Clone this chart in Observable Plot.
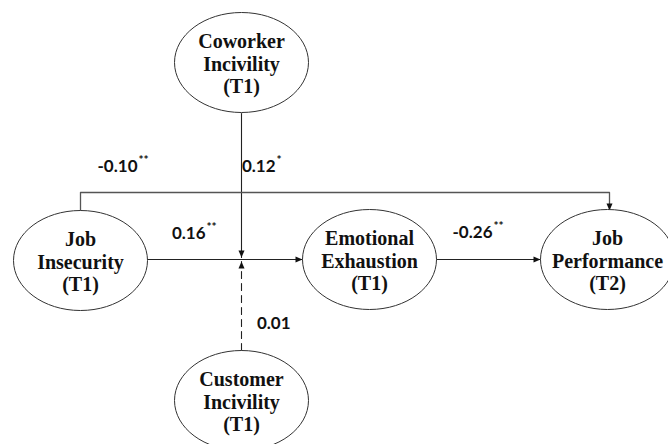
<!DOCTYPE html>
<html>
<head>
<meta charset="utf-8">
<script src="https://cdn.jsdelivr.net/npm/d3@7"></script>
<script src="https://cdn.jsdelivr.net/npm/@observablehq/plot@0.6"></script>
<style>
  html, body { margin: 0; padding: 0; background: #ffffff; }
  #chart { width: 668px; height: 444px; overflow: hidden; }
</style>
</head>
<body>
<div id="chart"></div>
<script>
// ---- Data: constructs (nodes) ----
const nodeLabels = [
  "Coworker\nIncivility\n(T1)",
  "Job\nInsecurity\n(T1)",
  "Emotional\nExhaustion\n(T1)",
  "Job\nPerformance\n(T2)",
  "Customer\nIncivility\n(T1)"
];
// diagram layout (centres, in diagram units)
const nodeX = [241, 80, 369, 607, 241];
const nodeY = [62, 260, 259, 259, 400];

// ---- Data: path coefficients ----
const coefText  = ["-0.10", "0.12", "0.16", "-0.26", "0.01"];
const coefStars = ["**", "*", "**", "**", ""];
// label anchor (end of number), diagram units
const coefX = [137, 275, 205, 492, 290];
const coefY = [166, 166, 233, 232, 323];

// ---- Data: paths (diagram units) ----
const pathIds = ["JI-EE", "EE-JP", "CO-mod", "CU-mod", "JI-JP"];
const pathDashed = [false, false, false, true, false];
const pathPoints = [
  [[147, 259], [302, 259]],
  [[436, 259], [540, 259]],
  [[241, 113], [241, 257]],
  [[241, 350], [241, 261]],
  [[80, 210], [80, 192], [609, 192], [609, 210]]
];

// ---- Build tables ----
const nodes = nodeLabels.map((label, i) => ({label, x: nodeX[i], y: nodeY[i]}));
const coefs = coefText.map((t, i) => ({t, s: coefStars[i], x: coefX[i], y: coefY[i]}));
const segs = [];
const heads = [];
pathPoints.forEach((pts, i) => {
  pts.forEach(([x, y]) => segs.push({id: pathIds[i], dashed: pathDashed[i], x, y}));
  const [x0, y0] = pts[pts.length - 2];
  const [x1, y1] = pts[pts.length - 1];
  heads.push({x: x1, y: y1, rot: Math.atan2(x1 - x0, -(y1 - y0)) * 180 / Math.PI});
});

// custom symbols
const RX = 67, RY = 50, K = 0.5523;
const ellipseSymbol = {
  draw(ctx) {
    ctx.moveTo(RX, 0);
    ctx.bezierCurveTo(RX, K * RY, K * RX, RY, 0, RY);
    ctx.bezierCurveTo(-K * RX, RY, -RX, K * RY, -RX, 0);
    ctx.bezierCurveTo(-RX, -K * RY, -K * RX, -RY, 0, -RY);
    ctx.bezierCurveTo(K * RX, -RY, RX, -K * RY, RX, 0);
    ctx.closePath();
  }
};
const headSymbol = {
  draw(ctx) {
    ctx.moveTo(0, 0);
    ctx.lineTo(-3, 7);
    ctx.lineTo(3, 7);
    ctx.closePath();
  }
};

const chart = Plot.plot({
  width: 668,
  height: 444,
  margin: 0,
  x: {domain: [0, 668], range: [0, 668], axis: null},
  y: {domain: [0, 444], range: [0, 444], axis: null},
  style: {background: "#ffffff", overflow: "hidden"},
  marks: [
    Plot.line(segs.filter(d => !d.dashed && d.id !== "JI-JP"), {x: "x", y: "y", z: "id", stroke: "#222", strokeWidth: 1.1, curve: "linear"}),
    Plot.line(segs.filter(d => d.id === "JI-JP"), {x: "x", y: "y", z: "id", stroke: "#555", strokeWidth: 1.3, curve: "linear"}),
    Plot.line(segs.filter(d => d.dashed), {x: "x", y: "y", z: "id", stroke: "#222", strokeWidth: 1.1, strokeDasharray: "7,5"}),
    Plot.dot(heads, {x: "x", y: "y", rotate: "rot", symbol: headSymbol, r: 3, fill: "#111", stroke: "none"}),
    Plot.dot(nodes, {x: "x", y: "y", symbol: ellipseSymbol, r: 10, fill: "#ffffff", stroke: "#333", strokeWidth: 1}),
    Plot.text(nodes, {x: "x", y: "y", text: "label", fontFamily: "Liberation Serif", fontWeight: "bold", fontSize: 20, lineHeight: 1.13, fill: "#111", dy: 1}),
    Plot.text(coefs, {x: "x", y: "y", text: "t", textAnchor: "end", fontFamily: "Lato", fontWeight: "bold", fontSize: 17, fill: "#111"}),
    Plot.text(coefs, {x: "x", y: "y", text: "s", textAnchor: "start", dx: 1, dy: -6, fontFamily: "Lato", fontWeight: "bold", fontSize: 12, fill: "#111"})
  ]
});
document.getElementById("chart").appendChild(chart);
</script>
</body>
</html>
